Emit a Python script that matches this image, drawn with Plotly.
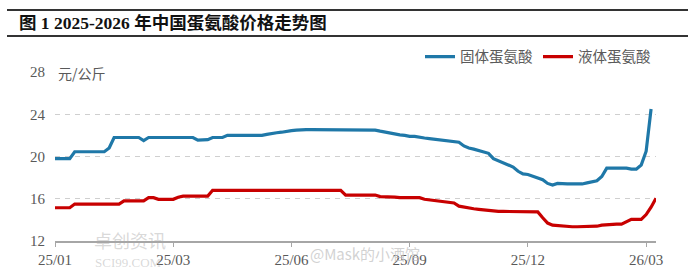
import plotly.graph_objects as go

# observation index (equally spaced trading points)
obs = list(range(0, 123))

solid = (
    [19.8] * 4 + [20.45] * 7 + [20.8] +
    [21.8] * 6 + [21.5] + [21.8] * 10 +
    [21.55, 21.55, 21.6] + [21.8] * 3 + [22.0] * 8 +
    [22.1, 22.2, 22.25, 22.3, 22.4, 22.45, 22.5] +
    [22.55] * 7 + [22.5] * 9 +
    [22.4, 22.3, 22.2, 22.1, 22.05, 22.0, 21.9, 21.9, 21.8, 21.75, 21.7, 21.65,
     21.6, 21.55, 21.45, 21.4, 21.35, 21.0, 20.8, 20.7, 20.55, 20.4, 20.3, 19.8,
     19.6, 19.4, 19.2, 19.0, 18.6, 18.35, 18.3, 18.15, 18.0, 17.8, 17.45, 17.3,
     17.45, 17.4, 17.4, 17.4, 17.4, 17.4, 17.5, 17.6, 17.7, 18.1, 18.9,
     18.9, 18.9, 18.9, 18.9, 18.8, 18.8, 19.2, 20.5, 24.5]
)

liquid = (
    [15.15] * 4 + [15.5] * 10 + [15.8] * 5 + [16.1] * 2 + [15.95] * 4 +
    [16.15] + [16.25] * 6 + [16.8] * 27 + [16.35] * 7 +
    [16.2, 16.2, 16.2, 16.15, 16.1, 16.1, 16.1, 16.1, 16.1, 15.95, 15.9, 15.85,
     15.8, 15.75, 15.7, 15.6, 15.3, 15.2, 15.1, 15.05, 15.0, 14.95, 14.9, 14.8] +
    [14.8] * 8 +
    [14.75, 14.2, 13.7, 13.5, 13.45, 13.4, 13.35, 13.35, 13.35, 13.35, 13.35,
     13.35, 13.4, 13.5, 13.55, 13.6, 13.6, 13.6, 13.8, 14.05, 14.05, 14.05,
     14.5, 15.2, 16.05]
)

tick_pos = [0, 24, 48, 72, 96, 120]
tick_text = ["25/01", "25/03", "25/06", "25/09", "25/12", "26/03"]
y_ticks = [12, 16, 20, 24, 28]

series_names = ["固体蛋氨酸", "液体蛋氨酸"]
series_colors = ["#1f78a8", "#c80000"]

fig = go.Figure()
for name, vals, col in zip(series_names, [solid, liquid], series_colors):
    fig.add_trace(go.Scatter(
        x=obs[:len(vals)], y=vals, mode="lines", name=name,
        line=dict(color=col, width=3.2), cliponaxis=False,
    ))

serif = "Liberation Serif, Noto Sans CJK SC, serif"
cjk = "Noto Sans CJK SC, sans-serif"

fig.update_layout(
    width=697, height=270,
    margin=dict(l=55, r=41, t=72, b=29, autoexpand=False),
    paper_bgcolor="white", plot_bgcolor="white",
    showlegend=True,
    legend=dict(orientation="h", x=1.0, xanchor="right", y=1.09, yanchor="middle",
                font=dict(family=cjk, size=14.5, color="#5a5a5a"),
                bgcolor="rgba(0,0,0,0)", itemwidth=30, tracegroupgap=0),
    xaxis=dict(range=[0, 122], tickvals=tick_pos, ticktext=tick_text,
               showgrid=False, zeroline=False, showline=True, automargin=False,
               linecolor="#a6a6a6", linewidth=1.5,
               ticks="outside", ticklen=4, tickcolor="#a6a6a6",
               tickfont=dict(family=serif, size=15, color="#595959")),
    yaxis=dict(range=[12, 28], tickvals=y_ticks, showgrid=True, automargin=False,
               gridcolor="#cfcfcf", griddash="5px,5px", gridwidth=1,
               zeroline=False, showline=False, ticks="",
               ticklabelstandoff=9,
               tickfont=dict(family=serif, size=15, color="#595959")),
)

ph = 270 - 72 - 29
pw = 697 - 55 - 41
def px_x(p):
    return (p - 55) / pw
def px_y(p):
    return (270 - 29 - p) / ph

# title rules
for yy, w in [(10, 2), (36, 2)]:
    fig.add_shape(type="line", xref="paper", yref="paper",
                  x0=px_x(7), x1=px_x(688), y0=px_y(yy), y1=px_y(yy),
                  line=dict(color="#333333", width=w))

fig.add_annotation(xref="paper", yref="paper", x=px_x(17), y=px_y(23),
                   xanchor="left", yanchor="middle", showarrow=False,
                   text="<b>图 1 2025-2026 年中国蛋氨酸价格走势图</b>",
                   font=dict(family=serif, size=17.5, color="#111111"))

fig.add_annotation(xref="paper", yref="paper", x=px_x(56), y=px_y(73),
                   xanchor="left", yanchor="middle", showarrow=False,
                   text="元/公斤", bgcolor="white",
                   font=dict(family=cjk, size=14, color="#595959"))

# watermarks
fig.add_annotation(xref="paper", yref="paper", x=px_x(130), y=px_y(240),
                   xanchor="center", yanchor="middle", showarrow=False,
                   text="卓创资讯", font=dict(family=cjk, size=18, color="rgba(170,170,170,0.45)"))
fig.add_annotation(xref="paper", yref="paper", x=px_x(128), y=px_y(262),
                   xanchor="center", yanchor="middle", showarrow=False,
                   text="SCI99.COM", font=dict(family=serif, size=13, color="rgba(170,170,170,0.45)"))
fig.add_annotation(xref="paper", yref="paper", x=px_x(365), y=px_y(253),
                   xanchor="center", yanchor="middle", showarrow=False,
                   text="@Mask的小酒馆", font=dict(family=cjk, size=15, color="rgba(190,190,190,0.7)"))

fig.write_html("out.html")
